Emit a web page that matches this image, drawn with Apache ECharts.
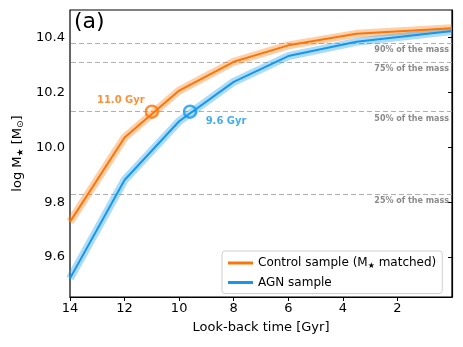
<!DOCTYPE html>
<html>
<head>
<meta charset="utf-8">
<script src="https://cdn.jsdelivr.net/npm/echarts@6/dist/echarts.min.js"></script>
<style>html,body{margin:0;padding:0;background:#fff}#c{width:463px;height:347px}</style>
</head>
<body>
<div id="c"></div>
<script>
// Data
var lookback = [14, 12, 10, 8, 6, 3.5, 0];
var control = [9.728, 10.036, 10.207, 10.312, 10.372, 10.414, 10.434];
var agn = [9.522, 9.881, 10.095, 10.239, 10.333, 10.385, 10.424];
var halfMassControl = [11.0, 10.13];
var halfMassAgn = [9.6, 10.13];
var massLevels = [10.384, 10.307, 10.130, 9.831];
var massLabels = ['90% of the mass', '75% of the mass', '50% of the mass', '25% of the mass'];
var xTicks = [2, 4, 6, 8, 10, 12, 14];
var yTicks = [9.6, 9.8, 10.0, 10.2, 10.4];

var ORANGE = '#fb7608';
var BLUE = '#1497ec';
var FONT = 'DejaVu Sans';

function pairs(xs, ys){ return xs.map(function(x,i){ return [x, ys[i]]; }); }

var chart = echarts.init(document.getElementById('c'), null, {renderer:'canvas'});
chart.setOption({
  animation: false,
  textStyle: {fontFamily: FONT},
  grid: {left: 70, right: 11, top: 10, bottom: 50, show: true, borderColor: '#000', borderWidth: 1.2, backgroundColor: 'transparent'},
  xAxis: {
    type: 'value', min: 0, max: 14, inverse: true,
    axisLine: {show: true, lineStyle: {color: '#000', width: 1.2}},
    axisTick: {show: true, inside: false, length: 4, lineStyle: {color: '#000'}, customValues: xTicks},
    axisLabel: {color: '#000', fontSize: 13, fontFamily: FONT, margin: 5, customValues: xTicks},
    splitLine: {show: false},
    name: 'Look-back time [Gyr]', nameLocation: 'middle', nameGap: 24,
    nameTextStyle: {color: '#000', fontSize: 13, fontFamily: FONT}
  },
  yAxis: {
    type: 'value', min: 9.454, max: 10.501,
    axisLine: {show: true, lineStyle: {color: '#000', width: 1.2}},
    axisTick: {show: true, inside: false, length: 4, lineStyle: {color: '#000'}, customValues: yTicks},
    axisLabel: {color: '#000', fontSize: 13, fontFamily: FONT, margin: 5, customValues: yTicks,
      formatter: function(v){ return v.toFixed(1); }},
    splitLine: {show: false},
    name: 'log M{s|★} [M{s|⊙}]', nameLocation: 'middle', nameGap: 44, nameRotate: 90,
    nameTextStyle: {color: '#000', fontSize: 13, fontFamily: FONT,
      rich: {s: {fontSize: 9, verticalAlign: 'bottom', padding: [6,0,0,0], fontFamily: FONT}}}
  },
  legend: {
    show: true, orient: 'vertical', left: 222, top: 251, width: 224,
    data: [{name: 'control'}, {name: 'agn'}],
    icon: 'rect', itemWidth: 25, itemHeight: 3, itemGap: 7,
    backgroundColor: '#fff', borderColor: '#d0d0d0', borderWidth: 1, borderRadius: 3,
    padding: [6, 6, 5, 6],
    formatter: function(n){ return n === 'control' ? 'Control sample (M{s|★} matched)' : 'AGN sample'; },
    textStyle: {color: '#000', fontSize: 12, fontFamily: FONT,
      rich: {s: {fontSize: 8, verticalAlign: 'bottom', padding: [5,0,0,0], fontFamily: FONT}}}
  },
  graphic: [{type: 'text', left: 74, top: 11, style: {text: '(a)', fontSize: 22, fontFamily: FONT, fill: '#000'}}],
  series: [
    {name: 'controlBand', type: 'line', data: pairs(lookback, control), symbol: 'none', silent: true,
      lineStyle: {color: ORANGE, width: 8, opacity: 0.35}, z: 1},
    {name: 'agnBand', type: 'line', data: pairs(lookback, agn), symbol: 'none', silent: true,
      lineStyle: {color: BLUE, width: 8, opacity: 0.35}, z: 1},
    {name: 'control', type: 'line', data: pairs(lookback, control), symbol: 'none', color: ORANGE,
      lineStyle: {color: ORANGE, width: 2}, z: 3},
    {name: 'agn', type: 'line', data: pairs(lookback, agn), symbol: 'none', color: BLUE,
      lineStyle: {color: BLUE, width: 2}, z: 3,
      markLine: {silent: true, symbol: ['none','none'],
        lineStyle: {color: '#b0b0b0', type: [5, 3], width: 1.2},
        label: {show: true, position: 'insideStartBottom', distance: [3, 3], color: '#8a8a8a', fontSize: 8, fontWeight: 'bold', fontFamily: FONT,
          formatter: function(p){ return p.name; }},
        data: massLevels.map(function(v,i){ return {yAxis: v, name: massLabels[i]}; }),
        z: 0}},
    {name: 'controlHalf', type: 'scatter', data: [halfMassControl], symbol: 'circle', symbolSize: 12, z: 5,
      itemStyle: {color: 'rgba(255,255,255,0)', borderColor: ORANGE, borderWidth: 2.5},
      label: {show: true, position: 'inside', offset: [-31, -11], formatter: halfMassControl[0].toFixed(1) + ' Gyr',
        color: ORANGE, fontWeight: 'bold', fontSize: 10, fontFamily: FONT}},
    {name: 'agnHalf', type: 'scatter', data: [halfMassAgn], symbol: 'circle', symbolSize: 12, z: 5,
      itemStyle: {color: 'rgba(255,255,255,0)', borderColor: BLUE, borderWidth: 2.5},
      label: {show: true, position: 'inside', offset: [36, 10], formatter: halfMassAgn[0].toFixed(1) + ' Gyr',
        color: BLUE, fontWeight: 'bold', fontSize: 10, fontFamily: FONT}}
  ]
});
</script>
</body>
</html>
